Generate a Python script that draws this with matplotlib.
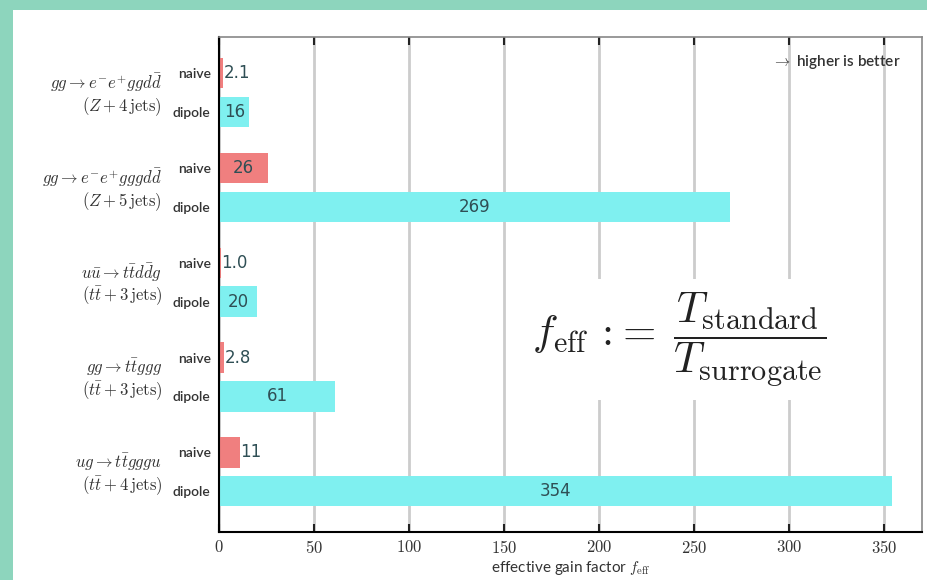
import numpy as np
import matplotlib
matplotlib.use("Agg")
import matplotlib.pyplot as plt
from matplotlib.patches import Rectangle
from matplotlib import rcParams

rcParams['mathtext.fontset'] = 'cm'
rcParams['font.family'] = ['Lato', 'DejaVu Sans']

# gain factors per process, top to bottom
processes = [r'$gg \rightarrow e^{-}e^{+}ggd\bar{d}$',
             r'$gg \rightarrow e^{-}e^{+}gggd\bar{d}$',
             r'$u\bar{u} \rightarrow t\bar{t}d\bar{d}g$',
             r'$gg \rightarrow t\bar{t}ggg$',
             r'$ug \rightarrow t\bar{t}gggu$']
subtitles = [r'$(Z + 4\,\mathrm{jets})$',
             r'$(Z + 5\,\mathrm{jets})$',
             r'$(t\bar{t} + 3\,\mathrm{jets})$',
             r'$(t\bar{t} + 3\,\mathrm{jets})$',
             r'$(t\bar{t} + 4\,\mathrm{jets})$']
naive = [2.1, 26, 1.0, 2.8, 11]
dipole = [16, 269, 20, 61, 354]
xticks = [0, 50, 100, 150, 200, 250, 300, 350]

red = '#f07f7f'
cyan = '#7ff0f0'
txtcol = '#2f4f55'

fig = plt.figure(figsize=(9.27, 5.8), dpi=100)
fig.patch.set_facecolor('#8dd5bd')
fig.add_artist(Rectangle((13/927, 0), 1, 1 - 10/580, transform=fig.transFigure,
                         facecolor='white', edgecolor='none', zorder=0))

ax = fig.add_axes([219/927, 1 - 532/580, 703/927, 495/580])

off = 0.41
h = 0.32
pos = np.arange(len(naive))
ax.barh(pos, naive, height=h, color=red, zorder=2)
ax.barh(pos + off, dipole, height=h, color=cyan, zorder=2)

def fmt(v):
    return f'{v:.1f}' if v < 10 else f'{v:.0f}'

for p, v in list(zip(pos, naive)) + list(zip(pos + off, dipole)):
    if v >= 15:
        ax.text(v / 2, p, fmt(v), ha='center', va='center', fontsize=12,
                color=txtcol, family='DejaVu Sans', zorder=3)
    else:
        ax.text(v + 0.3, p, fmt(v), ha='left', va='center', fontsize=12,
                color=txtcol, family='DejaVu Sans', zorder=3)

ax.set_xlim(0, 370)
ax.set_ylim(4.84, -0.38)
ax.set_xticks(xticks)
ax.set_xticklabels([f'${t}$' for t in xticks], fontsize=12, color='#333333')
ax.set_yticks(np.concatenate([pos, pos + off]))
ax.set_yticklabels(['naive'] * len(pos) + ['dipole'] * len(pos),
                   fontsize=10, fontweight='semibold', color='#333333')
ax.tick_params(axis='y', length=0, pad=6)
ax.tick_params(axis='x', direction='in', top=True, length=6, width=1.5,
               color='#222222', pad=5)

ax.grid(axis='x', color='#cccccc', linewidth=2, zorder=0)
ax.set_axisbelow(True)

for s in ['left', 'bottom']:
    ax.spines[s].set_linewidth(1.5)
    ax.spines[s].set_color('black')
for s in ['top', 'right']:
    ax.spines[s].set_linewidth(1.2)
    ax.spines[s].set_color('#888888')

# two-line process labels left of each bar pair
for p, t1, t2 in zip(pos, processes, subtitles):
    ax.text(-0.081, p + 0.10, t1, transform=ax.get_yaxis_transform(),
            ha='right', va='center', fontsize=12, color='#333333')
    ax.text(-0.081, p + 0.355, t2, transform=ax.get_yaxis_transform(),
            ha='right', va='center', fontsize=12, color='#333333')

ax.text(0.969, 0.95, r'$\rightarrow$ higher is better', transform=ax.transAxes,
        ha='right', va='center', fontsize=11, fontweight='semibold', color='#333333')

ax.text(0.654, 0.388,
        r'$f_{\rm eff}\,\mathrm{:}\!{=}\;\dfrac{T_{\rm standard}}{T_{\rm surrogate}}$',
        transform=ax.transAxes, ha='center', va='center', fontsize=31,
        color='#222222', zorder=4,
        bbox=dict(facecolor='white', edgecolor='none', pad=8))

ax.set_xlabel(r'effective gain factor $f_{\rm eff}$', fontsize=11,
              color='#333333', labelpad=2)

fig.savefig('out.png', dpi=100, facecolor=fig.get_facecolor())
